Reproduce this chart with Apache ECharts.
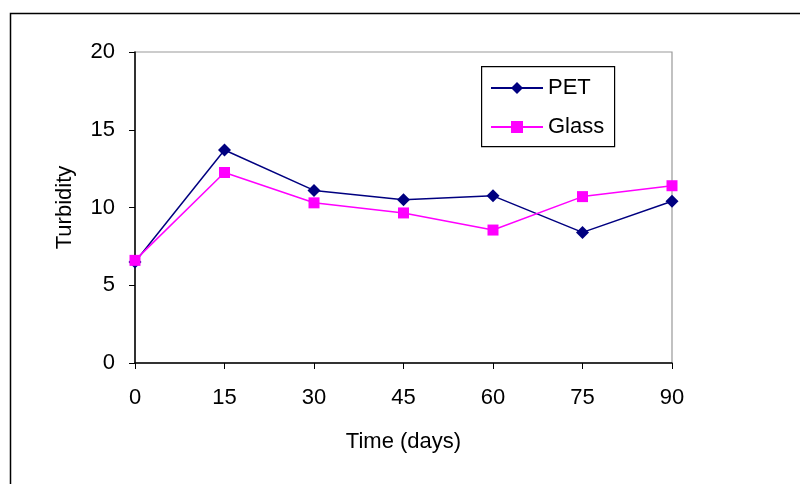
<!DOCTYPE html>
<html><head><meta charset="utf-8">
<script src="https://cdn.jsdelivr.net/npm/echarts@6/dist/echarts.min.js"></script>
<style>html,body{margin:0;padding:0;background:#fff}#c{width:800px;height:484px}</style>
</head><body><div id="c"></div>
<script>
const days = [0, 15, 30, 45, 60, 75, 90];
const pet = [6.5, 13.7, 11.1, 10.5, 10.75, 8.4, 10.4];
const glass = [6.6, 12.25, 10.3, 9.65, 8.55, 10.7, 11.4];
const yTicks = [0, 5, 10, 15, 20];

const chart = echarts.init(document.getElementById('c'));
const font = 'Liberation Sans, Arial, sans-serif';
chart.setOption({
  animation: false,
  backgroundColor: '#fff',
  graphic: [
    {type: 'rect', left: 8, top: 11, shape: {width: 820, height: 500}, style: {fill: 'none', stroke: '#000', lineWidth: 1.5}, z: -1},
    {type: 'rect', left: 481, top: 66, shape: {width: 133, height: 80}, style: {fill: '#fff', stroke: '#000', lineWidth: 1.2}, z: 5}
  ],
  grid: {left: 135, right: 128, top: 52, bottom: 121, show: true, borderColor: '#999', borderWidth: 1.2, backgroundColor: '#fff'},
  legend: {
    orient: 'vertical', left: 490, top: 77, padding: 0, itemGap: 17, itemWidth: 52, itemHeight: 15,
    textStyle: {fontFamily: font, fontSize: 22, color: '#000'},
    data: ['PET', 'Glass'],
    z: 10
  },
  xAxis: {
    type: 'value', min: 0, max: 90, interval: 15,
    name: 'Time (days)', nameLocation: 'middle', nameGap: 68,
    nameTextStyle: {fontFamily: font, fontSize: 22, color: '#000'},
    axisLine: {onZero: false, lineStyle: {color: '#000', width: 1.5}},
    axisTick: {show: true, length: 6, lineStyle: {color: '#000'}},
    axisLabel: {fontFamily: font, fontSize: 22, color: '#000', margin: 24},
    splitLine: {show: false}
  },
  yAxis: {
    type: 'value', min: 0, max: 20, interval: 5,
    name: 'Turbidity', nameLocation: 'middle', nameGap: 59, nameRotate: 90,
    nameTextStyle: {fontFamily: font, fontSize: 22, color: '#000'},
    axisLine: {show: true, lineStyle: {color: '#000', width: 1.5}},
    axisTick: {show: true, length: 6, lineStyle: {color: '#000'}},
    axisLabel: {fontFamily: font, fontSize: 22, color: '#000', margin: 20,
      formatter: v => yTicks.includes(v) ? String(v) : ''},
    splitLine: {show: false}
  },
  series: [
    {name: 'PET', type: 'line', data: days.map((d, i) => [d, pet[i]]),
     symbol: 'diamond', symbolSize: 13, color: '#000080',
     lineStyle: {color: '#000080', width: 1.5}, itemStyle: {color: '#000080'}, z: 3},
    {name: 'Glass', type: 'line', data: days.map((d, i) => [d, glass[i]]),
     symbol: 'rect', symbolSize: 11, color: '#ff00ff',
     lineStyle: {color: '#ff00ff', width: 1.5}, itemStyle: {color: '#ff00ff'}, z: 4}
  ]
});
</script></body></html>
